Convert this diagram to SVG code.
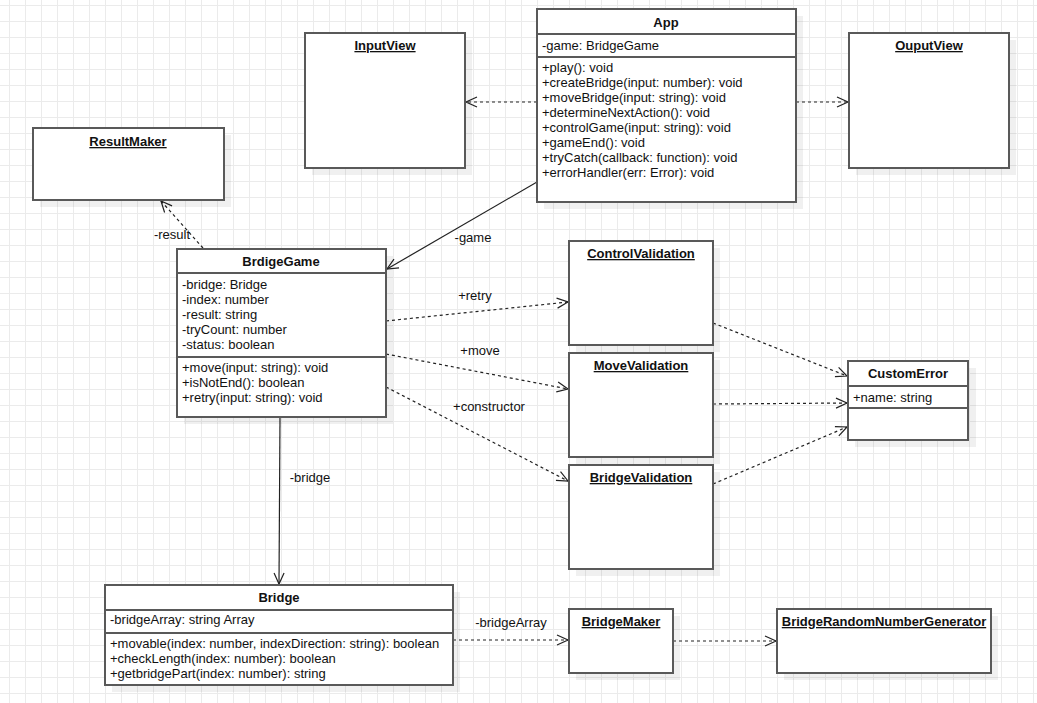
<svg xmlns="http://www.w3.org/2000/svg" width="1037" height="703" viewBox="0 0 1037 703">
<defs>
<pattern id="grid" patternUnits="userSpaceOnUse" x="9" y="5" width="16" height="16">
<rect x="0" y="0" width="1" height="16" fill="#ebebeb"/>
<rect x="0" y="0" width="16" height="1" fill="#ebebeb"/>
</pattern>
<marker id="open" markerUnits="userSpaceOnUse" markerWidth="14" markerHeight="12" refX="11" refY="5" orient="auto" overflow="visible">
<path d="M0,0 L11,5 L0,10" fill="none" stroke="#222" stroke-width="1.2"/>
</marker>
<style>
text{font-family:"Liberation Sans",Arial,sans-serif;font-size:13px;fill:#111}
.t{font-weight:bold;text-anchor:middle}
.u{font-weight:bold;text-anchor:middle;text-decoration:underline}
.box{fill:#fff;stroke:#595959;stroke-width:2}
.sh{fill:#000;fill-opacity:0.06}
.div{stroke:#595959;stroke-width:2}
.dash{fill:none;stroke:#222;stroke-width:1.2;stroke-dasharray:3 3;marker-end:url(#open)}
.solid{fill:none;stroke:#222;stroke-width:1.2;marker-end:url(#open)}
.lbl{text-anchor:middle}
</style>
</defs>
<rect width="1037" height="703" fill="#fff"/>
<rect width="1037" height="703" fill="url(#grid)"/>

<g id="connectors">
<line class="dash" x1="537" y1="102" x2="466" y2="102"/>
<line class="dash" x1="796" y1="102" x2="848" y2="102"/>
<line class="solid" x1="537" y1="182" x2="387" y2="269"/>
<text class="lbl" x="473" y="242">-game</text>
<line class="dash" x1="203" y1="248" x2="161" y2="201"/>
<text class="lbl" x="172" y="239">-result</text>
<line class="dash" x1="386" y1="321" x2="568" y2="302"/>
<text class="lbl" x="475" y="300">+retry</text>
<line class="dash" x1="386" y1="354" x2="568" y2="389"/>
<text class="lbl" x="480" y="355">+move</text>
<line class="dash" x1="386" y1="387" x2="568" y2="481"/>
<text class="lbl" x="489" y="411">+constructor</text>
<line class="dash" x1="713" y1="323" x2="847" y2="376"/>
<line class="dash" x1="713" y1="404" x2="847" y2="403"/>
<line class="dash" x1="713" y1="484" x2="847" y2="427"/>
<line class="solid" x1="280" y1="417" x2="279" y2="584"/>
<text class="lbl" x="310" y="482">-bridge</text>
<line class="dash" x1="453" y1="640" x2="568" y2="640"/>
<text class="lbl" x="511" y="627">-bridgeArray</text>
<line class="dash" x1="673" y1="641" x2="776" y2="641"/>
</g>

<g id="App">
<rect class="sh" x="544" y="16" width="259" height="193"/>
<rect class="box" x="537" y="9" width="259" height="193"/>
<line class="div" x1="537" y1="34" x2="796" y2="34"/>
<line class="div" x1="537" y1="57" x2="796" y2="57"/>
<text class="t" x="666" y="27">App</text>
<text x="542" y="49.5">-game: BridgeGame</text>
<text x="542" y="71.5">+play(): void</text>
<text x="542" y="86.5">+createBridge(input: number): void</text>
<text x="542" y="101.5">+moveBridge(input: string): void</text>
<text x="542" y="116.5">+determineNextAction(): void</text>
<text x="542" y="131.5">+controlGame(input: string): void</text>
<text x="542" y="146.5">+gameEnd(): void</text>
<text x="542" y="161.5">+tryCatch(callback: function): void</text>
<text x="542" y="176.5">+errorHandler(err: Error): void</text>
</g>

<g id="InputView">
<rect class="sh" x="312" y="40" width="160" height="135"/>
<rect class="box" x="305" y="33" width="160" height="135"/>
<text class="u" x="385" y="50">InputView</text>
</g>

<g id="OuputView">
<rect class="sh" x="856" y="40" width="160" height="135"/>
<rect class="box" x="849" y="33" width="160" height="135"/>
<text class="u" x="929" y="50">OuputView</text>
</g>

<g id="ResultMaker">
<rect class="sh" x="40" y="135" width="191" height="72"/>
<rect class="box" x="33" y="128" width="191" height="72"/>
<text class="u" x="128" y="146">ResultMaker</text>
</g>

<g id="BrdigeGame">
<rect class="sh" x="184" y="256" width="209" height="168"/>
<rect class="box" x="177" y="249" width="209" height="168"/>
<line class="div" x1="177" y1="273" x2="386" y2="273"/>
<line class="div" x1="177" y1="357" x2="386" y2="357"/>
<text class="t" x="281" y="266">BrdigeGame</text>
<text x="182" y="288.5">-bridge: Bridge</text>
<text x="182" y="303.5">-index: number</text>
<text x="182" y="318.5">-result: string</text>
<text x="182" y="333.5">-tryCount: number</text>
<text x="182" y="348.5">-status: boolean</text>
<text x="182" y="371.5">+move(input: string): void</text>
<text x="182" y="386.5">+isNotEnd(): boolean</text>
<text x="182" y="401.5">+retry(input: string): void</text>
</g>

<g id="ControlValidation">
<rect class="sh" x="576" y="248" width="144" height="104"/>
<rect class="box" x="569" y="241" width="144" height="104"/>
<text class="u" x="641" y="258">ControlValidation</text>
</g>

<g id="MoveValidation">
<rect class="sh" x="576" y="360" width="144" height="104"/>
<rect class="box" x="569" y="353" width="144" height="104"/>
<text class="u" x="641" y="370">MoveValidation</text>
</g>

<g id="BridgeValidation">
<rect class="sh" x="576" y="472" width="144" height="104"/>
<rect class="box" x="569" y="465" width="144" height="104"/>
<text class="u" x="641" y="482">BridgeValidation</text>
</g>

<g id="CustomError">
<rect class="sh" x="855" y="368" width="121" height="79"/>
<rect class="box" x="848" y="361" width="120" height="79"/>
<line class="div" x1="848" y1="386" x2="968" y2="386"/>
<line class="div" x1="848" y1="408" x2="968" y2="408"/>
<text class="t" x="908" y="378">CustomError</text>
<text x="853" y="401.5">+name: string</text>
</g>

<g id="Bridge">
<rect class="sh" x="112" y="592" width="348" height="100"/>
<rect class="box" x="105" y="585" width="348" height="100"/>
<line class="div" x1="105" y1="610" x2="453" y2="610"/>
<line class="div" x1="105" y1="633" x2="453" y2="633"/>
<text class="t" x="279" y="602">Bridge</text>
<text x="110" y="624">-bridgeArray: string Array</text>
<text x="110" y="647.5">+movable(index: number, indexDirection: string): boolean</text>
<text x="110" y="662.5">+checkLength(index: number): boolean</text>
<text x="110" y="677.5">+getbridgePart(index: number): string</text>
</g>

<g id="BridgeMaker">
<rect class="sh" x="576" y="616" width="104" height="64"/>
<rect class="box" x="569" y="609" width="104" height="64"/>
<text class="u" x="621" y="626">BridgeMaker</text>
</g>

<g id="BridgeRandomNumberGenerator">
<rect class="sh" x="784" y="616" width="214" height="64"/>
<rect class="box" x="777" y="609" width="214" height="64"/>
<text class="u" x="884" y="626">BridgeRandomNumberGenerator</text>
</g>
</svg>
